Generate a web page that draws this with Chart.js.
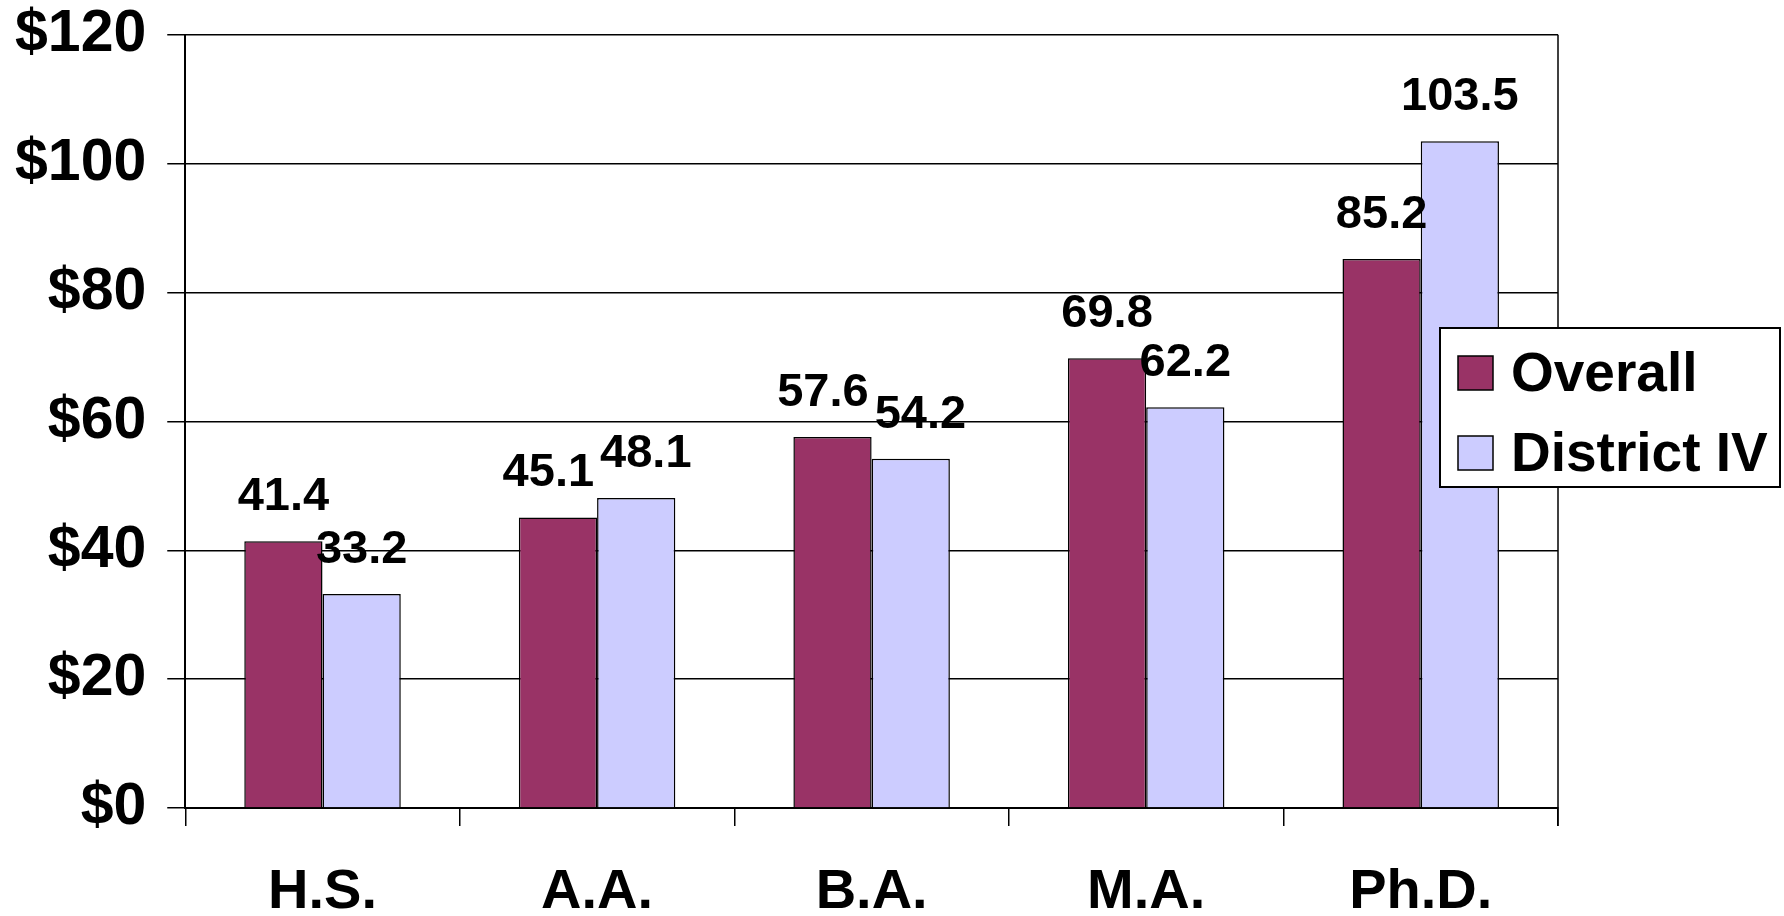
<!DOCTYPE html>
<html>
<head>
<meta charset="utf-8">
<script src="https://cdn.jsdelivr.net/npm/chart.js@4.4.1/dist/chart.umd.min.js"></script>
<style>
  html, body { margin: 0; padding: 0; background: #fff; }
  #wrap { width: 1784px; height: 916px; position: relative; }
</style>
</head>
<body>
<div id="wrap"><canvas id="salaryChart"></canvas></div>
<script>
const categories = ['H.S.', 'A.A.', 'B.A.', 'M.A.', 'Ph.D.'];
const overallValues = [41.4, 45.1, 57.6, 69.8, 85.2];
const districtValues = [33.2, 48.1, 54.2, 62.2, 103.5];
const yTicks = [0, 20, 40, 60, 80, 100, 120];

const FONT = '"Liberation Sans", Arial, sans-serif';

// value labels above each bar, pushed apart sideways if a pair collides
const barLabels = {
    id: 'barLabels',
    afterDatasetsDraw(chart) {
        const ctx = chart.ctx;
        ctx.save();
        ctx.font = 'bold 47px ' + FONT;
        ctx.fillStyle = '#000';
        ctx.textAlign = 'center';
        ctx.textBaseline = 'alphabetic';
        const a = chart.getDatasetMeta(0).data;
        const b = chart.getDatasetMeta(1).data;
        chart.data.labels.forEach((_, j) => {
            const ta = chart.data.datasets[0].data[j].toFixed(1);
            const tb = chart.data.datasets[1].data[j].toFixed(1);
            let xa = a[j].x, xb = b[j].x;
            const ya = a[j].y - 31, yb = b[j].y - 31;
            const wa = ctx.measureText(ta).width, wb = ctx.measureText(tb).width;
            const overlapX = (wa + wb) / 2 + 6 - (xb - xa);
            if (Math.abs(ya - yb) < 36 && overlapX > 0) {
                xa -= overlapX / 2;
                xb += overlapX / 2;
            }
            ctx.fillText(ta, xa, ya);
            ctx.fillText(tb, xb, yb);
        });
        ctx.restore();
    }
};

// right border of plot area + boxed legend overlapping it
const frameAndLegend = {
    id: 'frameAndLegend',
    afterDraw(chart) {
        const ctx = chart.ctx;
        const area = chart.chartArea;
        ctx.save();
        ctx.strokeStyle = '#000';
        ctx.lineWidth = 1.5;
        ctx.beginPath();
        ctx.moveTo(area.right, area.top);
        ctx.lineTo(area.right, area.bottom + 18);
        ctx.stroke();

        const left = area.right - 118, top = 328, w = 340, h = 159;
        ctx.fillStyle = '#fff';
        ctx.fillRect(left, top, w, h);
        ctx.lineWidth = 2;
        ctx.strokeRect(left, top, w, h);

        ctx.font = 'bold 55px ' + FONT;
        ctx.textAlign = 'left';
        ctx.textBaseline = 'middle';
        chart.data.datasets.forEach((ds, i) => {
            const cy = top + 45 + i * 80;
            ctx.fillStyle = ds.backgroundColor;
            ctx.fillRect(left + 18, cy - 17, 35, 34);
            ctx.lineWidth = 1.5;
            ctx.strokeRect(left + 18, cy - 17, 35, 34);
            ctx.fillStyle = '#000';
            ctx.fillText(ds.label, left + 71, cy + 3);
        });
        ctx.restore();
    }
};

const ctx = document.getElementById('salaryChart').getContext('2d');
new Chart(ctx, {
    type: 'bar',
    data: {
        labels: categories,
        datasets: [{
            label: 'Overall',
            data: overallValues,
            backgroundColor: '#993366',
            borderColor: '#000',
            borderWidth: 1.5
        }, {
            label: 'District IV',
            data: districtValues,
            backgroundColor: '#CCCCFF',
            borderColor: '#000',
            borderWidth: 1.5
        }]
    },
    options: {
        responsive: true,
        maintainAspectRatio: false,
        animation: false,
        devicePixelRatio: 1,
        layout: {
            padding: { left: -6, right: 226, top: 0, bottom: -44 }
        },
        datasets: {
            bar: { categoryPercentage: 0.57, barPercentage: 1.0 }
        },
        scales: {
            y: {
                min: 0,
                max: 120,
                afterBuildTicks(axis) {
                    axis.ticks = yTicks.map(v => ({ value: v }));
                },
                ticks: {
                    color: '#000',
                    // small lineHeight only trims the top overhang; single-line labels stay centred
                    font: { family: FONT, size: 59, weight: 'bold', lineHeight: 0.47 },
                    padding: 21,
                    callback: v => '$' + v
                },
                grid: { color: '#000', lineWidth: 1.5, tickLength: 18 },
                border: { color: '#000', width: 2 }
            },
            x: {
                ticks: {
                    color: '#000',
                    font: { family: FONT, size: 56, weight: 'bold', lineHeight: 1 },
                    padding: 39
                },
                grid: { drawOnChartArea: false, color: '#000', lineWidth: 1.5, tickLength: 18, offset: true },
                border: { color: '#000', width: 2 }
            }
        },
        plugins: {
            legend: { display: false },
            tooltip: { enabled: false }
        }
    },
    plugins: [barLabels, frameAndLegend]
});
</script>
</body>
</html>
